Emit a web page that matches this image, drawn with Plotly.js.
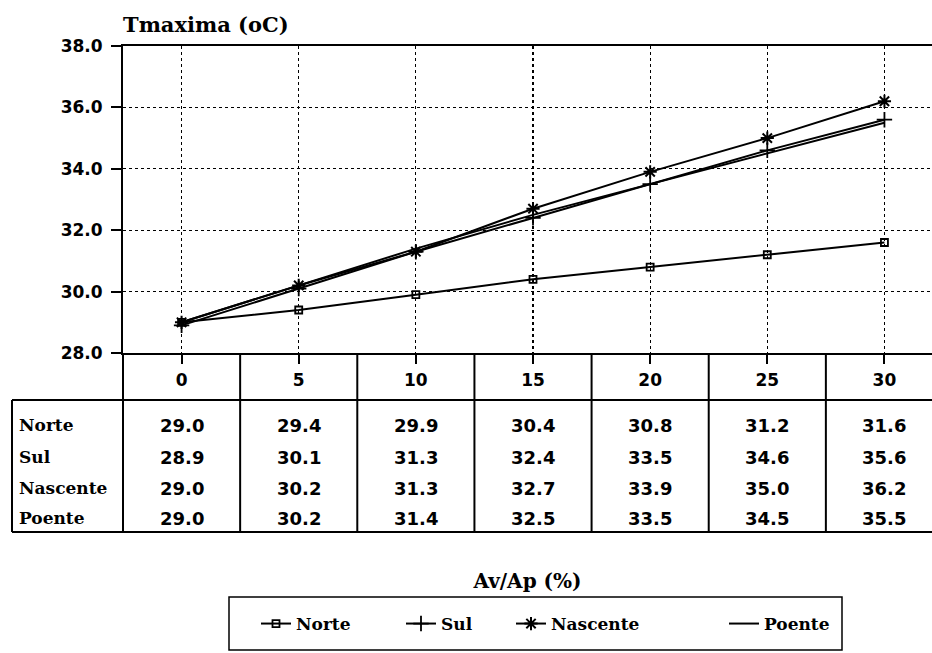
<!DOCTYPE html>
<html><head><meta charset="utf-8">
<script src="https://cdn.plot.ly/plotly-3.0.1.min.js"></script>
<style>html,body{margin:0;padding:0;background:#fff}</style>
</head><body><div id="chart" style="width:932px;height:653px"></div>
<script>
// ---- data ----
const avAp = [0, 5, 10, 15, 20, 25, 30];
const xTickText = ['0', '5', '10', '15', '20', '25', '30'];
const seriesNames = ['Norte', 'Sul', 'Nascente', 'Poente'];
const norte    = [29.0, 29.4, 29.9, 30.4, 30.8, 31.2, 31.6];
const sul      = [28.9, 30.1, 31.3, 32.4, 33.5, 34.6, 35.6];
const nascente = [29.0, 30.2, 31.3, 32.7, 33.9, 35.0, 36.2];
const poente   = [29.0, 30.2, 31.4, 32.5, 33.5, 34.5, 35.5];
const yTicks = [28, 30, 32, 34, 36, 38];
const chartTitle = 'Tmaxima (oC)';
const xTitle = 'Av/Ap (%)';

// ---- layout geometry ----
const W = 932, H = 653;
const mL = 123, mR = 0, mT = 46, mB = 300;
const plotW = W - mL - mR, plotH = H - mT - mB;
const xRange = [-2.5, 32.03];
const yRange = [28, 38];
const plotBottom = mT + plotH;
const pyToPaper = py => (plotBottom - py) / plotH;
const pxToPaper = px => (px - mL) / plotW;
const xToPaper = x => (x - xRange[0]) / (xRange[1] - xRange[0]);

const serif = 'DejaVu Serif, serif';
const sans = 'DejaVu Sans, sans-serif';
const black = '#000';

const allSeries = [norte, sul, nascente, poente];
const markerSpecs = [
  {symbol: 'square-open', size: 7, color: black, line: {width: 1.8, color: black}},
  {symbol: 'cross-thin-open', size: 11, color: black, line: {width: 1.8, color: black}},
  {symbol: 'asterisk-open', size: 11, color: black, line: {width: 2, color: black}},
  null
];
const legendWidths = [100, 65, 168, 80];

const traces = allSeries.map((vals, i) => {
  const t = {
    type: 'scatter',
    x: avAp,
    y: vals,
    name: seriesNames[i],
    mode: markerSpecs[i] ? 'lines+markers' : 'lines',
    line: {color: black, width: 2},
    legendwidth: legendWidths[i],
    cliponaxis: false
  };
  if (markerSpecs[i]) t.marker = markerSpecs[i];
  return t;
});

// table geometry (pixel rows)
const headerBottomPy = 400;
const tableBottomPy = 532;
const tableLeftPx = 12;
const rowPy = [425, 457, 488, 518];

const shapes = [];
const lineStyle = {color: black, width: 2};
for (let j = 0; j < avAp.length - 1; j++) {
  const mid = (avAp[j] + avAp[j + 1]) / 2;
  shapes.push({type: 'line', xref: 'paper', yref: 'paper',
    x0: xToPaper(mid), x1: xToPaper(mid), y0: 0, y1: pyToPaper(tableBottomPy), line: lineStyle});
}
shapes.push({type: 'line', xref: 'paper', yref: 'paper', x0: 0, x1: 0, y0: 0, y1: pyToPaper(tableBottomPy), line: lineStyle});
shapes.push({type: 'line', xref: 'paper', yref: 'paper', x0: pxToPaper(tableLeftPx), x1: 1, y0: pyToPaper(headerBottomPy), y1: pyToPaper(headerBottomPy), line: lineStyle});
shapes.push({type: 'line', xref: 'paper', yref: 'paper', x0: pxToPaper(tableLeftPx), x1: 1, y0: pyToPaper(tableBottomPy), y1: pyToPaper(tableBottomPy), line: lineStyle});
shapes.push({type: 'line', xref: 'paper', yref: 'paper', x0: pxToPaper(tableLeftPx), x1: pxToPaper(tableLeftPx), y0: pyToPaper(headerBottomPy), y1: pyToPaper(tableBottomPy), line: lineStyle});
shapes.push({type: 'rect', xref: 'paper', yref: 'paper', x0: pxToPaper(229), x1: pxToPaper(842), y0: pyToPaper(597), y1: pyToPaper(650), line: {color: black, width: 1.5}});

const annotations = [];
seriesNames.forEach((nm, i) => {
  annotations.push({text: nm, xref: 'paper', yref: 'paper', x: pxToPaper(17), y: pyToPaper(rowPy[i]),
    xanchor: 'left', yanchor: 'middle', showarrow: false,
    font: {family: serif, size: 17, weight: 'bold', color: black}});
  allSeries[i].forEach((v, j) => {
    annotations.push({text: v.toFixed(1), xref: 'x', yref: 'paper', x: avAp[j], y: pyToPaper(rowPy[i]),
      xanchor: 'center', yanchor: 'middle', showarrow: false,
      font: {family: sans, size: 18, weight: 'bold', color: black}});
  });
});

const layout = {
  width: W, height: H,
  margin: {l: mL, r: mR, t: mT, b: mB, pad: 0},
  paper_bgcolor: '#fff', plot_bgcolor: '#fff',
  showlegend: true,
  title: {text: chartTitle, xref: 'container', yref: 'container', x: mL / W, xanchor: 'left',
    y: 1 - 25 / H, yanchor: 'middle', font: {family: serif, size: 21, weight: 'bold', color: black}},
  xaxis: {
    range: xRange, tickvals: avAp, ticktext: xTickText,
    showgrid: true, gridcolor: black, griddash: 'dot', gridwidth: 1.2,
    zeroline: false, showline: true, linecolor: black, linewidth: 2, mirror: true,
    ticks: 'outside', ticklen: 9, tickwidth: 2, tickcolor: black,
    ticklabelstandoff: 2,
    tickfont: {family: sans, size: 17, weight: 'bold', color: black},
    title: {text: xTitle, standoff: 185, font: {family: serif, size: 20, weight: 'bold', color: black}},
    automargin: false, fixedrange: true
  },
  yaxis: {
    range: yRange, tickvals: yTicks, tickformat: '.1f',
    showgrid: true, gridcolor: black, griddash: 'dot', gridwidth: 1.2,
    zeroline: false, showline: true, linecolor: black, linewidth: 2,
    ticks: 'outside', ticklen: 10, tickwidth: 2, tickcolor: black,
    ticklabelstandoff: 5,
    tickfont: {family: sans, size: 17, weight: 'bold', color: black},
    automargin: false, fixedrange: true
  },
  legend: {
    orientation: 'h', xref: 'paper', yref: 'paper',
    x: pxToPaper(256), y: pyToPaper(624), xanchor: 'left', yanchor: 'middle',
    bgcolor: 'rgba(0,0,0,0)', borderwidth: 0,
    font: {family: serif, size: 17, weight: 'bold', color: black}
  },
  shapes: shapes,
  annotations: annotations
};

Plotly.newPlot('chart', traces, layout, {displayModeBar: false, staticPlot: true});
</script>
</body></html>
